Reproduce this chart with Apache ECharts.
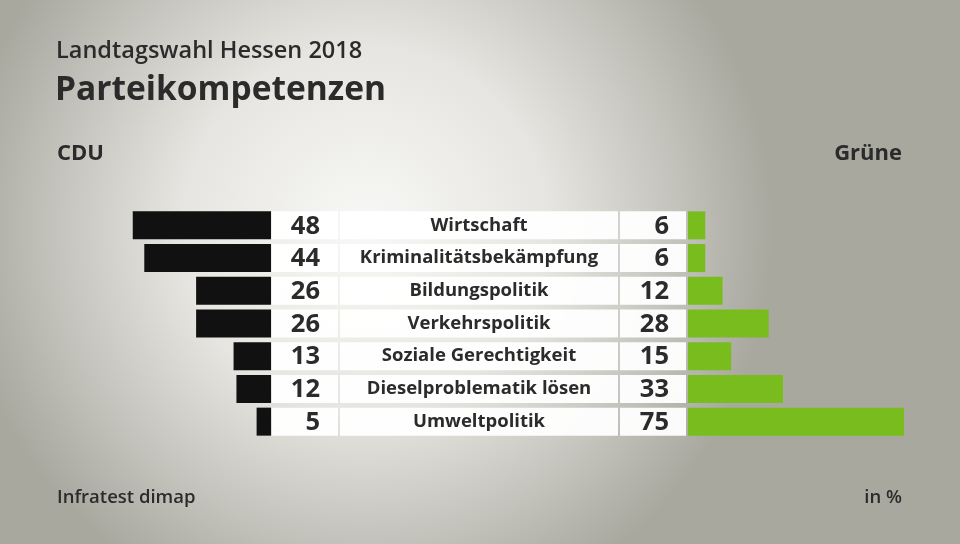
<!DOCTYPE html>
<html><head><meta charset="utf-8">
<script src="https://cdn.jsdelivr.net/npm/echarts@6/dist/echarts.min.js"></script>
<style>html,body{margin:0;padding:0;}#c{width:960px;height:544px;}</style>
</head><body><div id="c"></div>
<script>
const categories = ['Wirtschaft','Kriminalitätsbekämpfung','Bildungspolitik','Verkehrspolitik','Soziale Gerechtigkeit','Dieselproblematik lösen','Umweltpolitik'];
const cduValues = [48,44,26,26,13,12,5];
const grueneValues = [6,6,12,28,15,33,75];
const seriesNames = ['CDU','Grüne'];

const FONT = '"Open Sans", "Noto Sans", sans-serif';
const TXT = '#2b2b2b';
const chart = echarts.init(document.getElementById('c'));

const gridTop = 209, gridH = 229, barW = 28;
const scaleMax = 80, gridW = 230.4;

function boxes(params, api) {
  const idx = api.value(0);
  const y = api.coord([0, idx])[1];
  const top = y - barW/2;
  return {
    type: 'group',
    children: [
      {type:'rect', shape:{x:272,y:top,width:66,height:barW}, style:{fill:'rgba(255,255,255,0.95)'}},
      {type:'rect', shape:{x:340,y:top,width:278,height:barW}, style:{fill:'rgba(255,255,255,0.95)'}},
      {type:'rect', shape:{x:620,y:top,width:66,height:barW}, style:{fill:'rgba(255,255,255,0.95)'}},
      {type:'text', style:{x:320,y:y+1,text:String(cduValues[idx]),align:'right',verticalAlign:'middle',font:'bold 25.5px '+FONT,fill:TXT}},
      {type:'text', style:{x:479,y:y,text:categories[idx],align:'center',verticalAlign:'middle',font:'bold 18.5px '+FONT,fill:TXT}},
      {type:'text', style:{x:669,y:y+1,text:String(grueneValues[idx]),align:'right',verticalAlign:'middle',font:'bold 25.5px '+FONT,fill:TXT}}
    ]
  };
}

chart.setOption({
  animation: false,
  backgroundColor: {
    type: 'radial', x: 0.38, y: 0.42, r: 0.75,
    colorStops: [{offset:0,color:'#f8f8f6'},{offset:0.45,color:'#e6e5e1'},{offset:1,color:'#a9a89f'}]
  },
  grid: [
    {left: 271 - gridW, top: gridTop, width: gridW, height: gridH},
    {left: 688, top: gridTop, width: gridW, height: gridH},
    {left: 0, top: gridTop, width: 960, height: gridH}
  ],
  xAxis: [
    {gridIndex:0, type:'value', min:0, max:scaleMax, inverse:true, show:false},
    {gridIndex:1, type:'value', min:0, max:scaleMax, show:false},
    {gridIndex:2, type:'value', min:0, max:1, show:false}
  ],
  yAxis: [
    {gridIndex:0, type:'category', data:categories, inverse:true, show:false},
    {gridIndex:1, type:'category', data:categories, inverse:true, show:false},
    {gridIndex:2, type:'category', data:categories, inverse:true, show:false}
  ],
  series: [
    {name:seriesNames[0], type:'bar', xAxisIndex:0, yAxisIndex:0, data:cduValues, barWidth:barW, itemStyle:{color:'#111111'}, silent:true},
    {name:seriesNames[1], type:'bar', xAxisIndex:1, yAxisIndex:1, data:grueneValues, barWidth:barW, itemStyle:{color:'#78bc1e'}, silent:true},
    {type:'custom', xAxisIndex:2, yAxisIndex:2, data:categories.map((c,i)=>[i]), encode:{y:0}, renderItem:boxes, silent:true}
  ],
  graphic: [
    {type:'text', left:56, top:39, style:{text:'Landtagswahl Hessen 2018', font:'600 23.5px '+FONT, fill:TXT}},
    {type:'text', left:55, top:73, style:{text:'Parteikompetenzen', font:'bold 33.5px '+FONT, fill:TXT}},
    {type:'text', left:57, top:143, style:{text:'CDU', font:'bold 22px '+FONT, fill:TXT}},
    {type:'text', right:58, top:143, style:{text:'Grüne', font:'bold 22px '+FONT, fill:TXT}},
    {type:'text', left:57, top:488, style:{text:'Infratest dimap', font:'600 18.5px '+FONT, fill:TXT}},
    {type:'text', right:58, top:488, style:{text:'in %', font:'600 18.5px '+FONT, fill:TXT}}
  ]
});
</script></body></html>
